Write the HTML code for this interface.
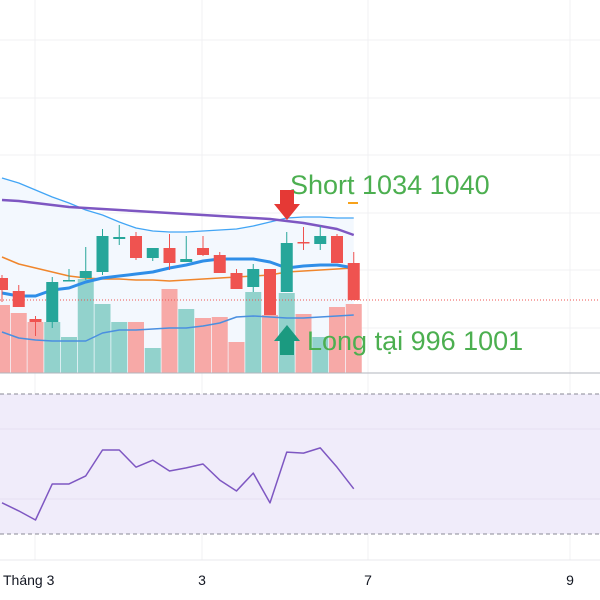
<!DOCTYPE html>
<html><head><meta charset="utf-8"><style>
html,body{margin:0;padding:0;background:#fff;width:600px;height:600px;overflow:hidden}
svg{display:block}
text{font-family:"Liberation Sans","DejaVu Sans",sans-serif}
</style></head><body>
<svg id="chart" width="600" height="600" viewBox="0 0 600 600">
<g id="grid">
<line x1="0" y1="40" x2="600" y2="40" stroke="#f0f0f3"/>
<line x1="0" y1="98" x2="600" y2="98" stroke="#f0f0f3"/>
<line x1="0" y1="155" x2="600" y2="155" stroke="#f0f0f3"/>
<line x1="0" y1="213" x2="600" y2="213" stroke="#f0f0f3"/>
<line x1="0" y1="270" x2="600" y2="270" stroke="#f0f0f3"/>
<line x1="0" y1="328" x2="600" y2="328" stroke="#f0f0f3"/>
<line x1="35" y1="0" x2="35" y2="560" stroke="#f0f0f3"/>
<line x1="202" y1="0" x2="202" y2="560" stroke="#f0f0f3"/>
<line x1="368" y1="0" x2="368" y2="560" stroke="#f0f0f3"/>
<line x1="570" y1="0" x2="570" y2="560" stroke="#f0f0f3"/>
</g>
<g id="main"></g>
<line x1="0" y1="373" x2="600" y2="373" stroke="#b2b5be"/>
<rect x="0" y="394" width="600" height="140" fill="#f0ecfa"/>
<line x1="0" y1="429" x2="600" y2="429" stroke="#e6e1f2"/>
<line x1="0" y1="499" x2="600" y2="499" stroke="#e6e1f2"/>
<line x1="0" y1="394" x2="600" y2="394" stroke="#8a8a95" stroke-dasharray="4,3"/>
<line x1="0" y1="534" x2="600" y2="534" stroke="#8a8a95" stroke-dasharray="4,3"/>
<g id="rsi"></g>
<line x1="0" y1="560" x2="600" y2="560" stroke="#e8e8ec"/>
<g id="xlabels" font-size="14" fill="#131722"></g>
<g>
<text x="290" y="194" font-size="27" fill="#4caf50">Short 1034 1040</text>
<polygon points="280,190 294,190 294,204 300,204 287,220 274,204 280,204" fill="#e53935"/>
<line x1="348" y1="203" x2="358" y2="203" stroke="#f7a21b" stroke-width="2"/>
</g>
<g>
<text x="307" y="350" font-size="27" fill="#4caf50">Long tại 996 1001</text>
<polygon points="287,325 300,341 294,341 294,355 280,355 280,341 274,341" fill="#1b9a80"/>
</g>
</svg>
<script>
const xTickLabels = ["Tháng 3","3","7","9"];
const xTickPos = [3,202,368,570];
const opens  = [1011,1004.5,990.5,989,1010,1011,1014,1030.5,1032,1021,1026,1019,1026,1022.5,1013.5,1006.5,1015.5,1004,1029,1028,1032,1018.5];
const highs  = [1012.5,1007.5,992,1011.5,1015.5,1026.5,1035.5,1037.5,1034,1026,1033,1032,1032,1024,1015.5,1018,1015.5,1034,1036.5,1037,1033,1024];
const lows   = [999,996.5,982,986,1009.5,1010,1012.5,1027.5,1020,1019.5,1015,1019,1022,1013.5,1005.5,1004,992.5,1004,1025,1025,1018.5,1000];
const closes = [1005,996.5,989,1009,1010,1014.5,1032,1031.5,1021,1026,1018.5,1020.5,1022.5,1013.5,1005.5,1015.5,992.5,1028.5,1028.5,1032,1018.5,1000];
const volumes = [68,60,51,51,36,94,69,51,51,25,84,64,55,56,31,81,58,80,59,36,66,69];
const volumeMA = [41,35,33,32,32,32,40,43,43,44,45,45,47,50,56,57,56,55,55,56,57,58];
const upperBand = [1061,1058.5,1055,1051.5,1048.5,1045,1042.5,1039,1036,1034.5,1034,1034,1034.5,1035,1035.5,1037,1039,1041,1041.5,1041.5,1041,1041];
const blueMA = [1003.5,1002,1002,1005,1006,1009,1011,1012,1013,1014,1016,1017.5,1019.5,1020.5,1020.5,1020.5,1019,1016,1017,1017.5,1017.5,1016];
const orangeMA = [1021.5,1018,1016,1014,1012,1011,1010.5,1010.5,1010,1010,1009.5,1010,1010.5,1011,1011.5,1012,1012.5,1014,1014.5,1015,1015.5,1016];
const purpleMA = [1050,1049.5,1048.5,1047.5,1046.5,1046,1045.5,1045,1044.5,1044,1043.5,1043,1042.5,1042,1041.5,1041,1040.5,1039.5,1038.5,1037,1035.5,1032.5];
const rsiValues = [38.9,36.6,34,44.3,44.3,46.6,54,54,49.1,51.1,48,48.9,50,45.4,42.3,47.4,38.9,53.4,53.1,54.6,49.1,42.9];
const lastPrice = 1000;

const NS="http://www.w3.org/2000/svg";
const xs = i => 2 + 16.75*i;
const py = p => 300 - (p-1000)*2;
const vy = v => 373 - v;
const ry = r => 394 + (70-r)*3.5;
function mk(tag, attrs, parent){const e=document.createElementNS(NS,tag);for(const k in attrs)e.setAttribute(k,attrs[k]);parent.appendChild(e);return e;}
const main=document.getElementById('main');
const n=closes.length;
let fp="M"+xs(0)+","+py(upperBand[0]);
for(let i=1;i<n;i++) fp+=" L"+xs(i)+","+py(upperBand[i]);
fp+=" L"+xs(n-1)+",373 L0,373 L0,"+py(upperBand[0])+" Z";
const fill=mk('path',{d:fp,fill:'#f3f8fe'},main);


for(let i=0;i<n;i++){
  const up=closes[i]>=opens[i];
  const r=mk('rect',{x:xs(i)-8,y:vy(volumes[i]),width:16,height:volumes[i],fill:up?'#92d2cc':'#f7a9a7'},main);
  
  
}
function line(arr,f,color,w,name,parent){
  let d="";arr.forEach((v,i)=>{d+=(i?" L":"M")+xs(i)+","+f(v);});
  const p=mk('path',{d:d,fill:'none',stroke:color,'stroke-width':w,'stroke-linejoin':'round'},parent);
  
  
}
line(volumeMA,vy,'#4a8fe0',1.5,'volume-ma-line',main);
const dl=mk('line',{x1:0,y1:py(lastPrice),x2:600,y2:py(lastPrice),stroke:'#ef5350','stroke-width':1,'stroke-dasharray':'1,2'},main);


line(upperBand,py,'#42a5f5',1.3,'upper-band-line',main);
line(orangeMA,py,'#f0862c',1.5,'orange-ma-line',main);
line(purpleMA,py,'#7e57c2',2.5,'purple-ma-line',main);
line(blueMA,py,'#2f8ee8',3,'blue-ma-line',main);
for(let i=0;i<n;i++){
  const up=closes[i]>=opens[i];const c=up?'#26a69a':'#ef5350';
  const w=mk('line',{x1:xs(i),x2:xs(i),y1:py(highs[i]),y2:py(lows[i]),stroke:c,'stroke-width':1},main);
  
  
  const top=py(Math.max(opens[i],closes[i])),bot=py(Math.min(opens[i],closes[i]));
  const b=mk('rect',{x:xs(i)-6,y:top,width:12,height:Math.max(1.5,bot-top),fill:c},main);
  
  
}
line(rsiValues,ry,'#7e57c2',1.5,'rsi-line',document.getElementById('rsi'));
const xl=document.getElementById('xlabels');
xTickLabels.forEach((t,i)=>{
  const e=mk('text',{x:xTickPos[i],y:585,'text-anchor':i===0?'start':'middle'},xl);
  e.textContent=t;
  
  
});
</script>
</body></html>
